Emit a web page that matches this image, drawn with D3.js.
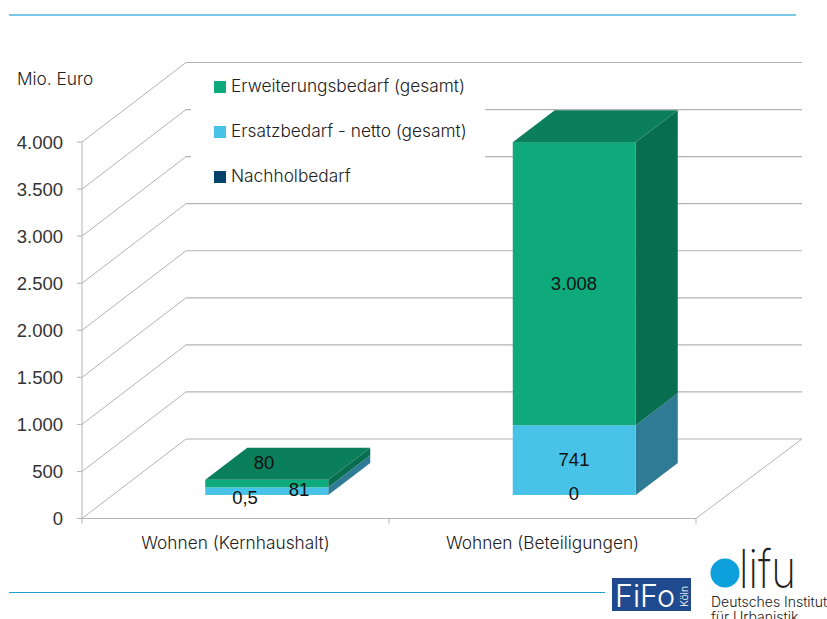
<!DOCTYPE html>
<html><head><meta charset="utf-8">
<script src="https://cdn.jsdelivr.net/npm/d3@7"></script>
<style>html,body{margin:0;background:#fff}svg{display:block}
text{font-family:Inter,"Liberation Sans",sans-serif;fill:#222}</style></head>
<body><div id="c"></div>
<script>
const categories=["Wohnen (Kernhaushalt)","Wohnen (Beteiligungen)"];
const seriesNames=["Nachholbedarf","Ersatzbedarf - netto (gesamt)","Erweiterungsbedarf (gesamt)"];
const nachhol=[0.5,0];
const ersatz=[81,741];
const erweiterung=[80,3008];
const yTicks=[0,500,1000,1500,2000,2500,3000,3500,4000];
const tickLabels=["0","500","1.000","1.500","2.000","2.500","3.000","3.500","4.000"];
const legendOrder=[2,1,0];
const colors=["#004268","#48c2e6","#0eaa7b"];
const sideColors=["#003a5c","#2f7b95","#086e50"];
const topColors=["#003a5c","#2f7b95","#0b7f5c"];

const W=827,H=619;
const svg=d3.select("#c").append("svg").attr("width",W).attr("height",H);
const y=d3.scaleLinear().domain([0,4000]).range([518.5,142]);
const wallDx=104,wallDy=-79.5;
const frontX=82,frontR=696;
const g="#b3b3b3";
yTicks.forEach((t,i)=>{
  const p=y(t);
  svg.append("line").attr("x1",frontX).attr("x2",frontX+wallDx).attr("y1",p).attr("y2",p+wallDy).attr("stroke",g);
  svg.append("line").attr("x1",frontX+wallDx).attr("x2",frontR+wallDx+2).attr("y1",p+wallDy).attr("y2",p+wallDy).attr("stroke",g).attr("stroke-width",1.2);
  svg.append("line").attr("x1",frontX-5).attr("x2",frontX).attr("y1",p).attr("y2",p).attr("stroke",g);
  svg.append("text").attr("x",63).attr("y",p+6.5).attr("text-anchor","end").style("font-family","Liberation Sans").style("font-size","18.5px").style("fill","#333").text(tickLabels[i]);
});
// legend panel hides the wall behind it
svg.append("rect").attr("x",191).attr("y",70).attr("width",294).attr("height",120).attr("fill","#fff");
svg.append("line").attr("x1",frontX).attr("x2",frontX).attr("y1",y(4000)).attr("y2",y(0)).attr("stroke",g);
svg.append("line").attr("x1",frontX-5).attr("x2",frontR).attr("y1",y(0)).attr("y2",y(0)).attr("stroke",g).attr("stroke-width",1.2);
[82,389,696].forEach(x=>svg.append("line").attr("x1",x).attr("x2",x).attr("y1",y(0)).attr("y2",y(0)+5).attr("stroke",g));
svg.append("line").attr("x1",frontR).attr("x2",frontR+wallDx+2).attr("y1",y(0)).attr("y2",y(0)+wallDy).attr("stroke",g);

const setDy=-23.5,setDx=31;
const x=d3.scaleBand().domain(categories).range([frontX+setDx,frontR+setDx+1]).paddingInner(0.6).paddingOuter(0.3);
const depthX=42,depthY=-32;
const stackData=categories.map((c,i)=>({c,v:[nachhol[i],ersatz[i],erweiterung[i]]}));
stackData.forEach(d=>{
  const x0=x(d.c),x1=x0+x.bandwidth();
  let acc=0;
  d.v.forEach((v,s)=>{
    const yb=y(acc)+setDy,yt=y(acc+v)+setDy;acc+=v;
    svg.append("polygon").attr("fill",sideColors[s]).attr("points",[[x1,yb],[x1+depthX,yb+depthY],[x1+depthX,yt+depthY],[x1,yt]].join(" "));
    svg.append("rect").attr("x",x0).attr("y",yt).attr("width",x.bandwidth()).attr("height",yb-yt).attr("fill",colors[s]);
    if(s===2){
      svg.append("polygon").attr("fill",topColors[s]).attr("points",[[x0,yt],[x0+depthX,yt+depthY],[x1+depthX,yt+depthY],[x1,yt]].join(" "));
    }
  });
});
const labelPos=[[[245,504],[299,496],[264,469]],[[574,500],[574,466],[574,290]]];
const labelText=v=>String(v).replace(".",",").replace(/^(\d)(\d{3})$/,"$1.$2");
stackData.forEach((d,i)=>d.v.forEach((v,s)=>{
  svg.append("text").attr("x",labelPos[i][s][0]).attr("y",labelPos[i][s][1]).attr("text-anchor","middle")
   .style("font-family","Liberation Sans").style("font-size","18.5px").style("fill","#111").text(labelText(v));
}));
const tf={size:"17.3px",weight:"300"};
categories.forEach((c,i)=>svg.append("text").attr("x",[235.5,542.5][i]).attr("y",549).attr("text-anchor","middle").style("font-size",tf.size).style("font-weight",tf.weight).text(c));
svg.append("text").attr("x",17).attr("y",85).style("font-size",tf.size).style("font-weight",tf.weight).text("Mio. Euro");
legendOrder.forEach((s,i)=>{
  const ly=87+i*45;
  svg.append("rect").attr("x",214).attr("y",ly-6).attr("width",12).attr("height",12).attr("fill",colors[s]);
  svg.append("text").attr("x",231).attr("y",ly+5).style("font-size",tf.size).style("font-weight",tf.weight).text(seriesNames[s]);
});
svg.append("line").attr("x1",9).attr("x2",796).attr("y1",15).attr("y2",15).attr("stroke","#7cc8e6").attr("stroke-width",2);
svg.append("line").attr("x1",9).attr("x2",605).attr("y1",592.5).attr("y2",592.5).attr("stroke","#1c9fd6").attr("stroke-width",1);
svg.append("rect").attr("x",612).attr("y",578).attr("width",79).attr("height",33).attr("fill","#1f4a8f");
svg.append("text").attr("x",615).attr("y",607).style("font-size","31px").style("font-weight","300").style("fill","#fff").attr("textLength",60).attr("lengthAdjust","spacingAndGlyphs").text("FiFo");
svg.append("text").attr("transform","translate(688,607) rotate(-90)").style("font-size","10.5px").style("font-weight","300").style("fill","#fff").text("Köln");
svg.append("circle").attr("cx",725).attr("cy",573).attr("r",14.5).attr("fill","#0ea0dc");
svg.append("text").attr("x",739).attr("y",588).style("font-size","53px").style("font-weight","200").style("fill","#222").attr("textLength",57).attr("lengthAdjust","spacingAndGlyphs").text("lifu");
svg.append("text").attr("x",711).attr("y",607).style("font-size","14px").style("font-weight","300").text("Deutsches Institut");
svg.append("text").attr("x",711).attr("y",622).style("font-size","14px").style("font-weight","300").text("für Urbanistik");
</script></body></html>
